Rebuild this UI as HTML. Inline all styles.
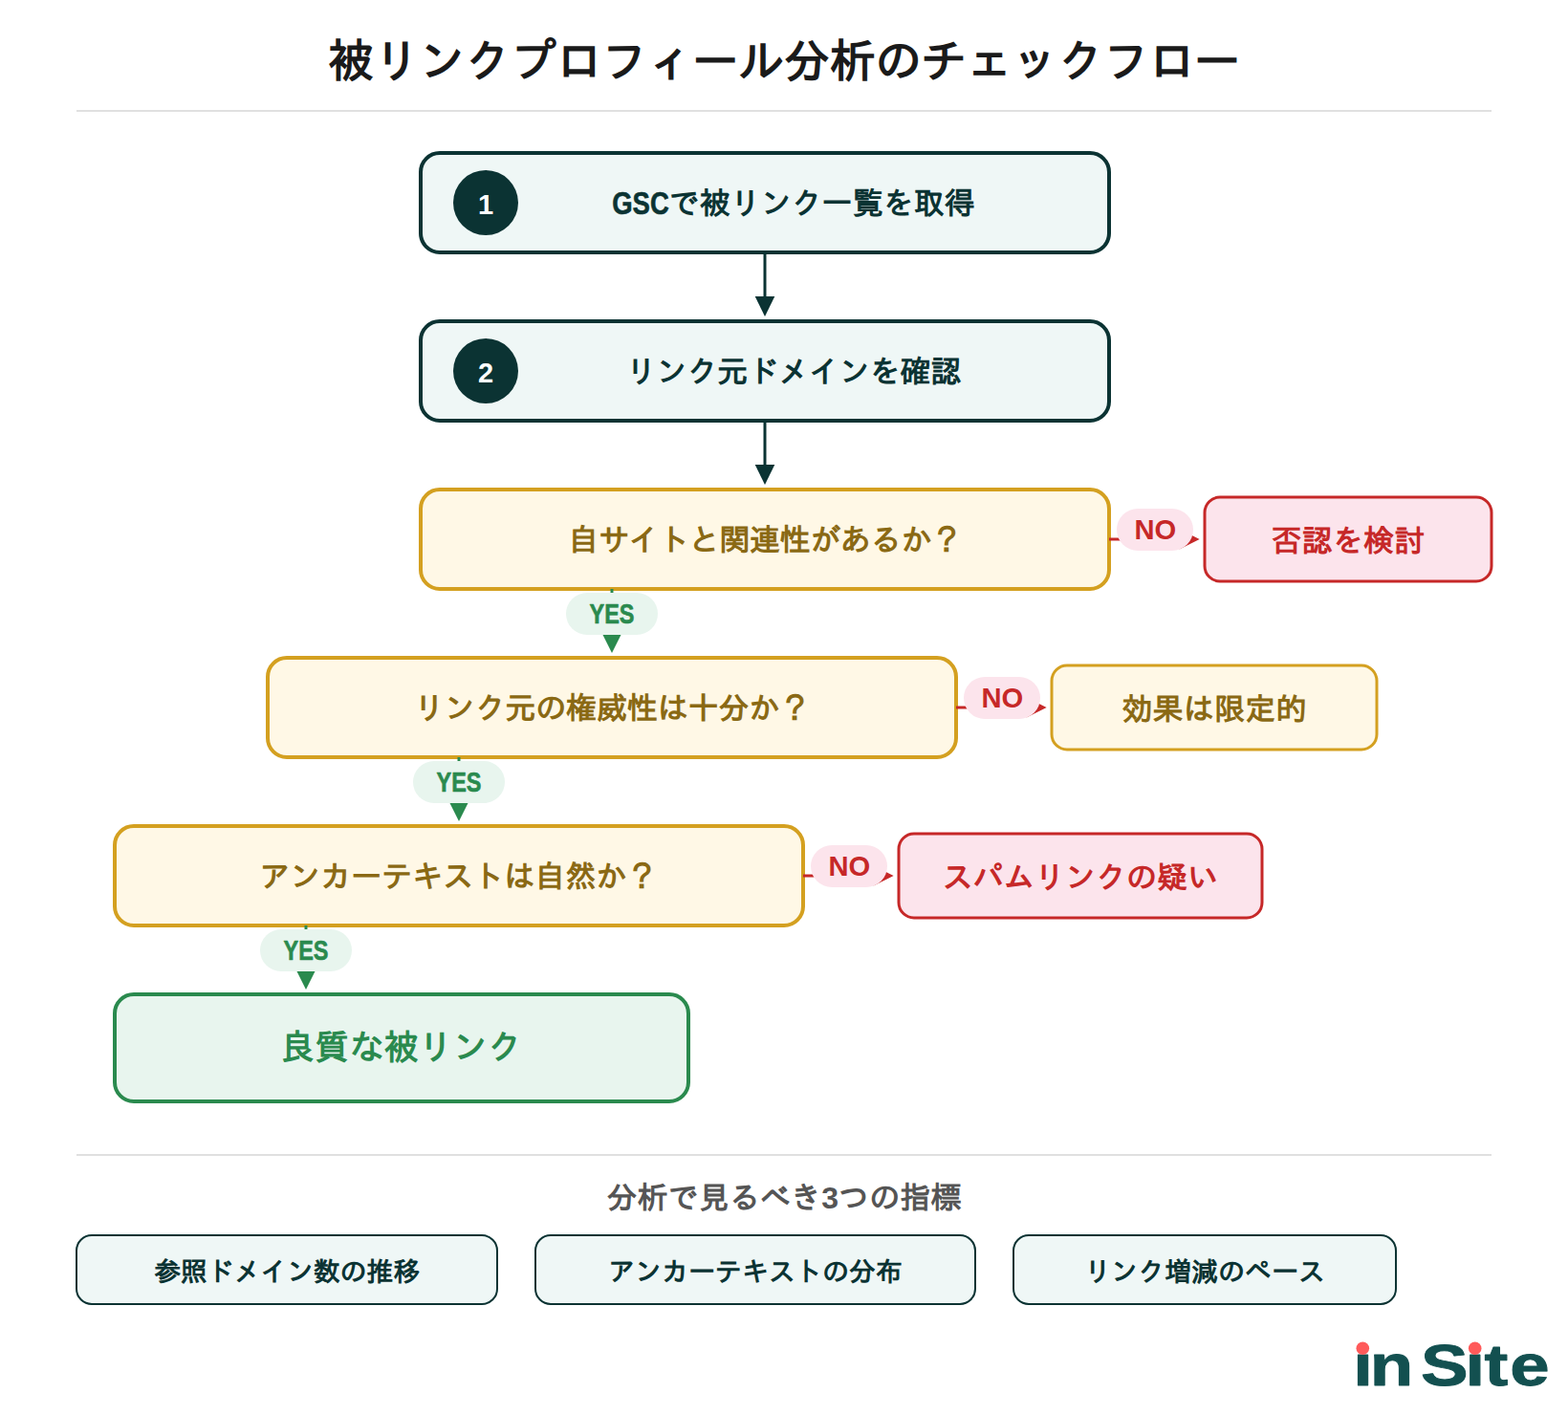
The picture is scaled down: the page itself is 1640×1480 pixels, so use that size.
<!DOCTYPE html>
<html lang="ja">
<head>
<meta charset="utf-8">
<title>被リンクプロフィール分析のチェックフロー</title>
<style>
  html, body { margin: 0; padding: 0; background: #ffffff; }
  svg { display: block; width: 100vw; height: auto; }
  text { font-family: "Liberation Sans", "IPAGothic", "Noto Sans CJK JP", sans-serif; font-weight: 700; text-anchor: middle; }
  .title { font-size: 48px; letter-spacing: -0.3px; fill: #1a1a1a; }
  .step  { font-size: 32px; fill: #0b3333; }
  .lat   { font-size: 32.6px; letter-spacing: 0; stroke: #0b3333; stroke-width: 0.6px; stroke-linejoin: round; }
  .num   { font-size: 29px; fill: #ffffff; }
  .q     { font-size: 32px; fill: #8a6914; }
  .bad   { font-size: 32px; fill: #c62828; }
  .good  { font-size: 36px; fill: #2a8a4e; }
  .yes   { font-size: 28.7px; fill: #2a8a4e; stroke: #2a8a4e; stroke-width: 0.6px; stroke-linejoin: round; }
  .no    { font-size: 29.2px; fill: #c62828; }
  .sub   { font-size: 32px; fill: #555555; }
  .chip  { font-size: 28px; fill: #0b3333; }
  .logo  { font-size: 62px; fill: #135050; stroke: #135050; stroke-width: 0.9px; stroke-linejoin: round; text-anchor: start; }
</style>
</head>
<body>
<svg viewBox="0 0 1640 1480" preserveAspectRatio="xMidYMin meet" role="img" aria-label="被リンクプロフィール分析のチェックフロー">
  <rect width="1640" height="1480" fill="#ffffff"/>

  <!-- title -->
  <text class="title" x="820" y="80.5">被リンクプロフィール分析のチェックフロー</text>
  <line x1="80" y1="116" x2="1560" y2="116" stroke="#e0e0e0" stroke-width="2"/>

  <!-- step 1 -->
  <rect x="440" y="160" width="720" height="104" rx="20" fill="#eff7f6" stroke="#0b3333" stroke-width="4"/>
  <circle cx="508" cy="212" r="34" fill="#0b3333"/>
  <text class="num" x="508" y="224">1</text>
  <text class="step" x="830" y="224" style="letter-spacing: 0px"><tspan class="lat" textLength="59.5" lengthAdjust="spacingAndGlyphs">GSC</tspan>で被リンク一覧を取得</text>
  <line x1="800" y1="266" x2="800" y2="312" stroke="#0b3333" stroke-width="3"/>
  <polygon points="789.7,310 810.3,310 800,330.9" fill="#0b3333"/>

  <!-- step 2 -->
  <rect x="440" y="336" width="720" height="104" rx="20" fill="#eff7f6" stroke="#0b3333" stroke-width="4"/>
  <circle cx="508" cy="388" r="34" fill="#0b3333"/>
  <text class="num" x="508" y="400">2</text>
  <text class="step" x="830" y="400" style="letter-spacing: -0.12px">リンク元ドメインを確認</text>
  <line x1="800" y1="442" x2="800" y2="488" stroke="#0b3333" stroke-width="3"/>
  <polygon points="789.7,486 810.3,486 800,506.9" fill="#0b3333"/>

  <!-- question: 自サイトと関連性があるか？ -->
  <rect x="440" y="512" width="720" height="104" rx="20" fill="#fff8e6" stroke="#d4a020" stroke-width="4"/>
  <text class="q" x="800" y="576" style="letter-spacing: -0.35px">自サイトと関連性があるか？</text>
  <line x1="1160" y1="564" x2="1240" y2="564" stroke="#c62828" stroke-width="3"/>
  <polygon points="1233.6,553.5 1254.6,564 1233.6,574.5" fill="#c62828"/>
  <rect x="1168" y="532" width="80" height="44" rx="22" fill="#fce4ec"/>
  <text class="no" x="1208.4" y="564">NO</text>
  <rect x="1260" y="520" width="300" height="88" rx="16" fill="#fce4ec" stroke="#c62828" stroke-width="3"/>
  <text class="bad" x="1410" y="576.5" style="letter-spacing: 0.1px">否認を検討</text>
  <line x1="640" y1="616" x2="640" y2="666" stroke="#2a8a4e" stroke-width="3"/>
  <polygon points="630.5,664 649.5,664 640,683" fill="#2a8a4e"/>
  <rect x="592" y="620" width="96" height="44" rx="22" fill="#e8f5ee"/>
  <text class="yes" x="640" y="652" textLength="47" lengthAdjust="spacingAndGlyphs">YES</text>

  <!-- question: リンク元の権威性は十分か？ -->
  <rect x="280" y="688" width="720" height="104" rx="20" fill="#fff8e6" stroke="#d4a020" stroke-width="4"/>
  <text class="q" x="640" y="752" style="letter-spacing: -0.15px">リンク元の権威性は十分か？</text>
  <line x1="1000" y1="740" x2="1080" y2="740" stroke="#c62828" stroke-width="3"/>
  <polygon points="1073.6,729.5 1094.6,740 1073.6,750.5" fill="#c62828"/>
  <rect x="1008" y="708" width="80" height="44" rx="22" fill="#fce4ec"/>
  <text class="no" x="1048.4" y="740">NO</text>
  <rect x="1100" y="696" width="340" height="88" rx="16" fill="#fff8e6" stroke="#d4a020" stroke-width="3"/>
  <text class="q" x="1270" y="752.5" style="letter-spacing: 0.2px">効果は限定的</text>
  <line x1="480" y1="792" x2="480" y2="842" stroke="#2a8a4e" stroke-width="3"/>
  <polygon points="470.5,840 489.5,840 480,859" fill="#2a8a4e"/>
  <rect x="432" y="796" width="96" height="44" rx="22" fill="#e8f5ee"/>
  <text class="yes" x="480" y="828" textLength="47" lengthAdjust="spacingAndGlyphs">YES</text>

  <!-- question: アンカーテキストは自然か？ -->
  <rect x="120" y="864" width="720" height="104" rx="20" fill="#fff8e6" stroke="#d4a020" stroke-width="4"/>
  <text class="q" x="479.2" y="928" style="letter-spacing: 0px">アンカーテキストは自然か？</text>
  <line x1="840" y1="916" x2="920" y2="916" stroke="#c62828" stroke-width="3"/>
  <polygon points="913.6,905.5 934.6,916 913.6,926.5" fill="#c62828"/>
  <rect x="848" y="884" width="80" height="44" rx="22" fill="#fce4ec"/>
  <text class="no" x="888.4" y="916">NO</text>
  <rect x="940" y="872" width="380" height="88" rx="16" fill="#fce4ec" stroke="#c62828" stroke-width="3"/>
  <text class="bad" x="1130" y="928.5" style="letter-spacing: 0.05px">スパムリンクの疑い</text>
  <line x1="320" y1="968" x2="320" y2="1018" stroke="#2a8a4e" stroke-width="3"/>
  <polygon points="310.5,1016 329.5,1016 320,1035" fill="#2a8a4e"/>
  <rect x="272" y="972" width="96" height="44" rx="22" fill="#e8f5ee"/>
  <text class="yes" x="320" y="1004" textLength="47" lengthAdjust="spacingAndGlyphs">YES</text>

  <!-- result -->
  <rect x="120" y="1040" width="600" height="112" rx="20" fill="#e8f5ee" stroke="#2a8a4e" stroke-width="4"/>
  <text class="good" x="419.6" y="1108.3" style="letter-spacing: 0.1px">良質な被リンク</text>

  <!-- footer -->
  <line x1="80" y1="1208" x2="1560" y2="1208" stroke="#e0e0e0" stroke-width="2"/>
  <text class="sub" x="820" y="1264.3" style="letter-spacing: 0.1px">分析で見るべき3つの指標</text>
  <rect x="80" y="1292" width="440" height="72" rx="16" fill="#eff7f6" stroke="#0b3333" stroke-width="2"/>
  <text class="chip" x="300" y="1339.5" style="letter-spacing: -0.2px">参照ドメイン数の推移</text>
  <rect x="560" y="1292" width="460" height="72" rx="16" fill="#eff7f6" stroke="#0b3333" stroke-width="2"/>
  <text class="chip" x="790" y="1339.5" style="letter-spacing: 0px">アンカーテキストの分布</text>
  <rect x="1060" y="1292" width="400" height="72" rx="16" fill="#eff7f6" stroke="#0b3333" stroke-width="2"/>
  <text class="chip" x="1260" y="1339.5" style="letter-spacing: 0px">リンク増減のペース</text>

  <!-- logo -->
  <text class="logo" transform="scale(1.2 1)" x="1179.46 1193.95 1225.00 1238.36 1277.04 1293.67 1316.03" y="1449.25">in Site</text>
  <rect x="1417" y="1399" width="17" height="14" fill="#ffffff"/>
  <rect x="1534" y="1399" width="17" height="14" fill="#ffffff"/>
  <circle cx="1425.3" cy="1410.2" r="6.8" fill="#ff5a5a"/>
  <circle cx="1542.7" cy="1410.2" r="6.8" fill="#ff5a5a"/>
</svg>
</body>
</html>
